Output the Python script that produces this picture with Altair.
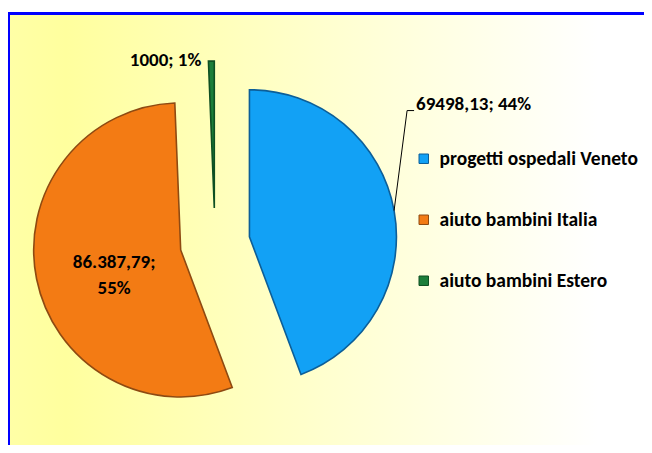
import math
import altair as alt
import pandas as pd

# ---- data ----
categories = ["progetti ospedali Veneto", "aiuto bambini Italia", "aiuto bambini Estero"]
values = [69498.13, 86387.79, 1000]
value_labels = ["69498,13", "86.387,79", "1000"]
slice_order = [0, 1, 2]

# ---- styling ----
fill_colors = ["#12A1F5", "#F37B14", "#1C7E3A"]
edge_colors = ["#0C5E98", "#8E4A12", "#0E4F22"]
FONT = "Carlito, Lato, Noto Sans, sans-serif"
CX, CY = 207, 235        # pie centre (chart px)
R = 147                  # pie radius
EXPLODE = 35             # explosion distance

df = pd.DataFrame({
    "category": categories,
    "value": values,
    "vlabel": value_labels,
    "order": slice_order,
})

TWO_PI = 2 * math.pi

base = alt.Chart(df).transform_joinaggregate(
    total="sum(value)"
).transform_window(
    cum="sum(value)", sort=[alt.SortField("order")], frame=[None, 0]
).transform_calculate(
    f0="(datum.cum - datum.value) / datum.total",
    f1="datum.cum / datum.total",
).transform_calculate(
    am=f"{TWO_PI} * (datum.f0 + datum.f1) / 2",
    pct="round(datum.value / datum.total * 100) + '%'",
).transform_calculate(
    cx=f"{CX} + {EXPLODE} * sin(datum.am)",
    cy=f"{CY} - {EXPLODE} * cos(datum.am)",
).transform_calculate(
    ox=f"datum.cx + {R} * sin(datum.am)",
    oy=f"datum.cy - {R} * cos(datum.am)",
    ix=f"datum.cx + {0.42 * R} * sin(datum.am)",
    iy=f"datum.cy - {0.42 * R} * cos(datum.am)",
    lab="datum.vlabel + '; ' + datum.pct",
    lab2="datum.vlabel + ';|' + datum.pct",
)

color_scale = alt.Scale(domain=categories, range=fill_colors)

# background panel with gradient and blue frame
bg = alt.Chart(pd.DataFrame({"bg": [0]})).mark_rect(
    fill=alt.Gradient(
        gradient="linear",
        stops=[
            alt.GradientStop(color="#FFFFA6", offset=0),
            alt.GradientStop(color="#FFFF9E", offset=0.08),
            alt.GradientStop(color="#FFFFD0", offset=0.45),
            alt.GradientStop(color="#FFFFFF", offset=0.82),
            alt.GradientStop(color="#FFFFFF", offset=1),
        ],
        x1=0, x2=1, y1=0, y2=0,
    ),
    stroke="#0000FF",
    strokeWidth=3,
).encode(
    x=alt.value(0.5), x2=alt.value(720), y=alt.value(5.5), y2=alt.value(520)
)

arcs = base.mark_arc(radius=R, strokeWidth=1.6).encode(
    theta=alt.Theta("f0:Q", scale=alt.Scale(domain=[0, 1], range=[0, TWO_PI])),
    theta2="f1:Q",
    x=alt.X("cx:Q", scale=None),
    y=alt.Y("cy:Q", scale=None),
    color=alt.Color(
        "category:N",
        scale=color_scale,
        sort=categories,
        legend=alt.Legend(
            title=None,
            orient="none",
            legendX=406,
            legendY=141,
            symbolType="square",
            symbolSize=90,
            symbolStrokeWidth=1,
            labelFont=FONT,
            labelFontSize=19.5,
            labelFontWeight="bold",
            labelColor="#000000",
            labelOffset=6,
            rowPadding=40,
            labelLimit=400,
        ),
    ),
    stroke=alt.Stroke("category:N", scale=alt.Scale(domain=categories, range=edge_colors), legend=None),
)

# leader line for the blue slice label
leader = base.transform_filter(alt.datum.order == 0).mark_rule(
    color="#000000", strokeWidth=1
).encode(
    x=alt.X("ox:Q", scale=None),
    y=alt.Y("oy:Q", scale=None),
    x2="lx:Q",
    y2="ly:Q",
).transform_calculate(lx="datum.ox + 13", ly="datum.oy - 100")

leader_h = base.transform_filter(alt.datum.order == 0).mark_rule(
    color="#000000", strokeWidth=1
).encode(
    x=alt.X("lx:Q", scale=None),
    y=alt.Y("ly:Q", scale=None),
    x2="lx2:Q",
    y2="ly:Q",
).transform_calculate(lx="datum.ox + 13", lx2="datum.ox + 20", ly="datum.oy - 100")

text_style = dict(font=FONT, fontSize=19, fontWeight="bold", color="#000000", baseline="middle")

lab_blue = base.transform_filter(alt.datum.order == 0).mark_text(
    align="left", dx=22, dy=-107, **text_style
).encode(x=alt.X("ox:Q", scale=None), y=alt.Y("oy:Q", scale=None), text="lab:N")

lab_orange = base.transform_filter(alt.datum.order == 1).mark_text(
    align="center", dx=-6, dy=0, lineBreak="|", lineHeight=26, **text_style
).encode(x=alt.X("ix:Q", scale=None), y=alt.Y("iy:Q", scale=None), text="lab2:N")

lab_green = base.transform_filter(alt.datum.order == 2).mark_text(
    align="right", dx=-10, dy=-1, **text_style
).encode(x=alt.X("ox:Q", scale=None), y=alt.Y("oy:Q", scale=None), text="lab:N")

chart = alt.layer(bg, arcs, leader, leader_h, lab_blue, lab_orange, lab_green).properties(
    width=636,
    height=437,
    padding=0,
    autosize=alt.AutoSizeParams(type="none"),
    background="#FFFFFF",
).configure_view(stroke=None)

chart.save("out.html", embed_options={"renderer": "svg", "actions": False})
